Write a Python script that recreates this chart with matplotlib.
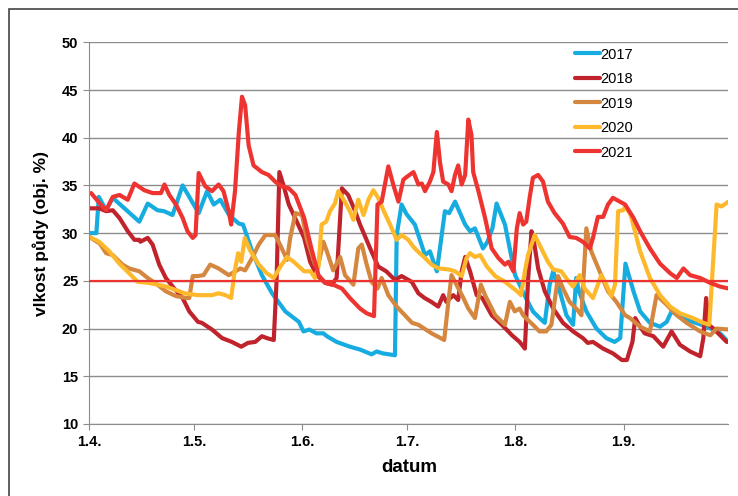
import matplotlib.pyplot as plt
from matplotlib.patches import Rectangle

# days counted from 1.4. (0) to 1.10. (183)
MONTH_DAYS = [0, 30, 61, 91, 122, 153]
MONTH_LABELS = ['1.4.', '1.5.', '1.6.', '1.7.', '1.8.', '1.9.']
THRESHOLD = 25

YEARS = ['2017', '2018', '2019', '2020', '2021']
COLORS = ['#16ace0', '#c0232b', '#d5873f', '#fdb92b', '#ee3430']

d2017 = [0, 2, 2.7, 4.8, 6.7, 14.3, 16.7, 19.5, 21.4, 23.8, 26.7, 30.5, 31.3, 33.7, 35.6, 37.5,
         40, 42.8, 44, 46.6, 49.4, 52.3, 56.1, 60, 61.3, 63, 65, 67, 68, 70.8, 74.6, 77.5, 80.8,
         82.3, 84, 87.5, 88, 89.4, 90.8, 93.2, 96.1, 97.5, 99.5, 101.8, 103, 104.7, 107.6, 109,
         110.4, 112.7, 114, 115.4, 116.6, 119, 121.9, 123.2, 125, 127, 128.9, 130.4, 131.8,
         132.8, 134.7, 136.6, 138.5, 139.4, 140.2, 142.3, 145.2, 148, 150.4, 152, 153.5, 155.8,
         157.7, 160.5, 163.4, 165.3, 166.7, 169, 172.8, 176.8, 180.6, 182.9]
v2017 = [30, 30, 33.8, 32.4, 33.7, 31.2, 33.1, 32.4, 32.3, 31.9, 35.0, 32.6, 32.1, 34.4, 33.0, 33.5,
         31.9, 31.0, 30.9, 28.1, 25.6, 23.7, 21.8, 20.7, 19.7, 19.9, 19.5, 19.5, 19.2, 18.6, 18.1,
         17.8, 17.3, 17.6, 17.4, 17.2, 29.8, 33.0, 32.0, 30.9, 27.7, 28.1, 26.0, 32.3, 32.1, 33.3,
         30.9, 30.2, 30.5, 28.4, 29.1, 30.5, 33.1, 30.9, 25.6, 24.6, 23.2, 21.8, 21.1, 20.6, 24.6,
         26.0, 23.9, 21.4, 20.4, 25.3, 23.9, 21.8, 20.0, 19.0, 18.6, 19.0, 26.8, 23.9, 21.8, 20.6,
         20.2, 20.7, 21.8, 21.3, 20.7, 20.2, 19.5, 18.6]

d2018 = [0, 2.8, 4.8, 6.7, 8.6, 11, 12.9, 14.3, 14.6, 16.7, 18.1, 20, 21.9, 24.3, 26.7, 28.6,
         31.1, 32.2, 35.1, 38, 40.8, 43.5, 45.4, 47.5, 49.4, 50.8, 52.8, 53.6, 54.4, 55.6, 57.1,
         58.9, 61.5, 63.2, 65.1, 67.5, 69.4, 70.8, 72.3, 74.1, 76.1, 77.5, 80.4, 82.7, 85, 87.5,
         89.4, 92.3, 94.2, 96, 97.9, 99.9, 101.3, 102.2, 104.2, 105.6, 106.6, 107.6, 109, 110.9,
         112.5, 115.2, 118.1, 121, 123.2, 124.7, 125.6, 126.6, 127.3, 128.5, 130.4, 132.8, 135.6,
         138.5, 141.3, 142.7, 144.2, 147.1, 149.9, 152.5, 153.9, 155.5, 156.3, 157.7, 159, 161.5,
         164.3, 166.7, 169.1, 172, 174.9, 175.8, 176.6, 177.3, 178.7, 180.6, 182.5]
v2018 = [32.6, 32.6, 32.3, 32.4, 31.6, 30.2, 29.3, 29.3, 29.1, 29.5, 28.8, 26.7, 25.3, 24.2, 23.2,
         21.8, 20.7, 20.6, 19.9, 19.0, 18.6, 18.1, 18.5, 18.6, 19.2, 19.0, 18.8, 25.0, 36.4, 35.0,
         33.0, 31.6, 29.5, 27.0, 25.6, 24.8, 24.6, 25.3, 34.7, 34.0, 32.3, 30.9, 28.4, 26.5, 26.0,
         25.1, 25.5, 24.9, 23.7, 23.2, 22.8, 22.3, 23.5, 22.8, 23.5, 23.0, 26.0, 27.5, 26.0, 23.5,
         23.2, 21.4, 20.4, 19.3, 18.6, 17.9, 25.0, 30.2, 29.1, 26.3, 23.9, 22.1, 20.6, 19.7, 19.0,
         18.5, 18.6, 17.9, 17.4, 16.7, 16.7, 18.6, 21.1, 20.2, 19.5, 19.2, 18.1, 19.7, 18.3, 17.6,
         17.1, 19.0, 23.2, 20.4, 20.0, 19.3, 18.6]

d2019 = [0, 3, 4.8, 6.7, 9.5, 11.4, 14.3, 16.7, 19.5, 21.9, 24.8, 27.7, 28.6, 29.6, 31, 32.7,
         34.6, 37, 39.9, 41.8, 43.2, 44.6, 46.6, 48.5, 50.4, 53.2, 54.6, 56.6, 57.5, 59, 60.9,
         62.2, 64.6, 65.5, 67, 68, 69.8, 71.8, 73.2, 75.6, 77, 78, 79.4, 80.8, 82.5, 83.7, 85.6,
         88, 92.4, 94.2, 98, 101.6, 102.8, 103.7, 105.1, 107.1, 108.5, 110.4, 112.1, 113.3, 116.2,
         119, 120.4, 121.8, 123.2, 124.2, 125, 127, 128.9, 130.8, 132.3, 133.2, 134.2, 135.6,
         137.5, 139.4, 140.9, 142.3, 143.7, 146.1, 148.5, 150.9, 153.4, 154.8, 157.7, 160.5,
         162.4, 165.3, 168.2, 171, 174.9, 177.8, 179.6, 183]
v2019 = [29.6, 28.9, 27.9, 27.7, 26.7, 26.3, 26.0, 25.3, 24.6, 23.9, 23.4, 23.2, 23.2, 25.5, 25.5,
         25.6, 26.7, 26.3, 25.6, 26.0, 26.3, 26.1, 27.4, 28.8, 29.8, 29.8, 28.8, 27.2, 29.5, 32.1,
         31.9, 29.5, 26.7, 26.6, 29.1, 28.1, 26.1, 27.5, 25.6, 24.6, 28.4, 28.8, 26.7, 24.9, 24.2,
         25.3, 23.5, 22.3, 20.6, 20.4, 19.5, 18.8, 22.8, 25.6, 24.6, 23.2, 22.1, 21.1, 24.6, 23.5,
         21.4, 20.4, 22.8, 21.8, 22.1, 21.4, 21.1, 20.4, 19.7, 19.7, 20.4, 22.8, 25.5, 24.2, 22.8,
         22.1, 21.4, 30.5, 28.1, 26.0, 23.9, 22.8, 21.4, 21.1, 20.2, 19.7, 23.5, 22.5, 21.4, 20.6,
         19.7, 19.3, 20.0, 19.9]

d2020 = [0, 2.8, 5.7, 8.6, 11.4, 13.8, 16.7, 19.5, 22, 24.3, 27.2, 31.1, 33, 35.1, 37, 39, 40.6,
         41.6, 42.6, 43.5, 44.5, 46, 48.5, 50.8, 52.8, 54.7, 56.6, 58.5, 61.5, 63.3, 64.6, 65.6,
         66.5, 67.8, 68.9, 70.3, 71.3, 72.8, 74.6, 75.6, 77, 78.5, 79.9, 81.3, 82.7, 84.2, 86.1,
         88, 89.4, 91.3, 92.7, 93.7, 95.8, 98, 100, 102.8, 104.7, 106.6, 108, 109, 110.4, 111.9,
         113.8, 116.2, 119, 122.5, 123.6, 124.7, 125.6, 127.5, 129.4, 131.3, 132.8, 135.1, 136.9,
         138.5, 140.4, 141.8, 144.2, 146.6, 148, 149.5, 150.5, 151.4, 152.8, 153.5, 155, 157.7,
         160.5, 163.4, 166.3, 169.1, 172.8, 175.8, 177.5, 178.6, 179.6, 181, 183]
v2020 = [29.6, 29.1, 28.1, 26.8, 25.8, 24.9, 24.8, 24.6, 24.4, 24.1, 23.7, 23.5, 23.5, 23.5, 23.7,
         23.5, 23.2, 26.0, 27.9, 27.0, 29.5, 28.2, 26.7, 25.8, 25.3, 26.5, 27.5, 27.0, 26.0, 26.0,
         25.3, 26.5, 30.9, 31.2, 32.3, 33.1, 34.4, 33.5, 32.3, 31.4, 33.5, 31.9, 33.5, 34.5, 33.7,
         32.4, 30.9, 29.3, 29.8, 29.3, 28.6, 28.2, 27.5, 26.7, 26.3, 26.2, 26.0, 25.5, 27.4, 27.9,
         27.5, 27.7, 26.5, 25.5, 24.9, 23.9, 23.5, 26.0, 27.7, 29.8, 28.4, 27.0, 26.2, 26.0, 25.1,
         24.4, 25.6, 24.2, 23.2, 25.6, 24.6, 23.4, 24.6, 32.3, 32.4, 32.8, 31.9, 28.1, 25.3, 23.5,
         22.3, 21.6, 21.1, 20.6, 20.4, 27.0, 33.0, 32.8, 33.3]

d2021 = [0.5, 3, 4.8, 6.7, 8.6, 11, 12.9, 15.7, 18.1, 20.5, 21.5, 22.9, 24.8, 26.7, 28.1, 29.6,
         30.4, 31.3, 33.2, 35.1, 37, 38.4, 39.9, 40.6, 41.7, 42.8, 43.7, 44.6, 45.6, 47, 49.4,
         51.3, 53.2, 55.1, 57.1, 59, 61.5, 63.5, 65.6, 67.5, 69.8, 72.3, 74.6, 77.5, 79.4, 81.5,
         82.5, 83.7, 85.6, 87, 88.5, 89.9, 90.9, 92.8, 94.2, 95.2, 96.1, 97.5, 98.5, 99.5, 100.4,
         101.3, 102.8, 103.7, 104.7, 105.6, 106.6, 107.6, 108.5, 109.4, 109.9, 111.4, 113.3, 115.2,
         117.1, 119, 120, 121.4, 122.4, 123.2, 124.2, 125.1, 126.1, 127, 128.5, 129.9, 131.3, 133.2,
         135.6, 137.5, 139.4, 141.3, 143.3, 144.2, 145.6, 147.1, 148.5, 149.9, 151.9, 153.4, 155.8,
         157.7, 160.5, 163.4, 166.3, 168.2, 170.1, 172, 174.9, 177.7, 180.6, 183]
v2021 = [34.2, 33.1, 32.4, 33.8, 34.0, 33.5, 35.2, 34.5, 34.2, 34.2, 35.1, 34.0, 33.0, 31.6, 30.2,
         29.5, 29.8, 36.3, 34.9, 34.4, 35.1, 34.4, 32.3, 30.9, 34.4, 40.6, 44.3, 43.4, 39.2, 37.1,
         36.4, 36.1, 35.4, 34.9, 34.7, 34.0, 31.6, 28.5, 25.6, 24.8, 24.6, 24.2, 23.2, 22.1, 21.6,
         21.3, 33.0, 33.3, 37.0, 35.1, 33.3, 35.6, 35.9, 36.4, 35.1, 35.2, 34.4, 35.4, 36.4, 40.6,
         37.4, 35.4, 35.1, 34.4, 36.1, 37.1, 35.1, 36.1, 41.9, 40.3, 36.4, 34.4, 31.6, 28.4, 27.4,
         26.7, 27.0, 26.0, 30.5, 32.1, 30.9, 31.2, 33.8, 35.8, 36.1, 35.4, 33.3, 32.1, 31.0, 29.6,
         29.5, 29.1, 28.4, 29.5, 31.7, 31.7, 33.0, 33.7, 33.3, 33.0, 31.6, 30.2, 28.4, 26.8, 25.8,
         25.3, 26.3, 25.6, 25.3, 24.8, 24.4, 24.2]

days = [d2017, d2018, d2019, d2020, d2021]
vals = [v2017, v2018, v2019, v2020, v2021]

fig = plt.figure(figsize=(7.38, 4.96), dpi=100)
ax = fig.add_axes([0.1211, 0.1452, 0.8660, 0.7695])

for d, v, name, c in zip(days, vals, YEARS, COLORS):
    ax.plot(d, v, color=c, lw=3, label=name, solid_joinstyle='round', solid_capstyle='round')
ax.axhline(THRESHOLD, color='#ee3430', lw=1.6, zorder=5)

ax.set_xlim(0, 183)
ax.set_ylim(10, 50)
ax.set_yticks(range(10, 51, 5))
ax.set_xticks(MONTH_DAYS)
ax.set_xticklabels(MONTH_LABELS)
ax.yaxis.grid(True, color='#8c8c8c', lw=1)
ax.set_axisbelow(True)
for s in ['top', 'right']:
    ax.spines[s].set_visible(False)
for s in ['left', 'bottom']:
    ax.spines[s].set_color('#8c8c8c')
ax.tick_params(axis='both', direction='out', length=4, color='#8c8c8c', labelsize=10.5, pad=4)
for lab in ax.get_xticklabels() + ax.get_yticklabels():
    lab.set_fontweight('bold')
    lab.set_family(['Liberation Sans Narrow', 'Liberation Sans'])

ax.set_xlabel('datum', fontsize=13.5, fontweight='bold', family=['Liberation Sans Narrow', 'Liberation Sans'], labelpad=7)
ax.set_ylabel('vlkost půdy (obj. %)', fontsize=12.5, fontweight='bold', family='Liberation Sans', labelpad=9)

leg = ax.legend(loc='upper left', bbox_to_anchor=(0.751, 1.0015), frameon=False,
                prop={'family': 'Liberation Sans', 'size': 10.5}, handlelength=1.7,
                handletextpad=0.0, labelspacing=0.72, borderaxespad=0.0)

fig.add_artist(Rectangle((9 / 738, -0.1), 1.2, (496 - 9) / 496 + 0.1, transform=fig.transFigure,
                         fill=False, edgecolor='#444444', lw=1.2))

fig.savefig('out.png', dpi=100)
